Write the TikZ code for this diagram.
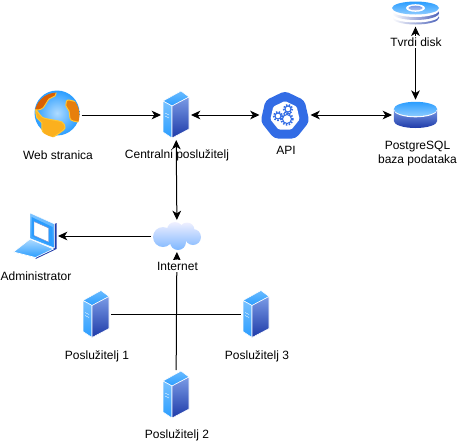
\documentclass[tikz,border=0pt]{standalone}
\usepackage{fontspec}
\setmainfont{Liberation Sans}
\usetikzlibrary{arrows.meta}

\definecolor{skyblue}{HTML}{2A9DFF}
\definecolor{paleblue}{HTML}{8CCBFF}
\definecolor{midblue}{HTML}{7A9BE6}
\definecolor{deepblue}{HTML}{1E3AA8}
\definecolor{apiblue}{HTML}{326CE5}
\definecolor{landdark}{HTML}{D95F02}
\definecolor{landlight}{HTML}{FBB01E}
\definecolor{landedge}{HTML}{FFC733}

\tikzset{
	iconbox/.style 2 args={inner sep=0pt, outer sep=1.5pt, minimum width=#1, minimum height=#2},
	textlabel/.style={inner sep=1pt, align=center, font=\fontsize{9}{10.5}\selectfont},
	link/.style={draw=black, line width=0.75pt},
	arrowlink/.style={link, -{Stealth[length=7pt,width=6.5pt,inset=2pt]}},
	botharrow/.style={link, {Stealth[length=7pt,width=6.5pt,inset=2pt]}-{Stealth[length=7pt,width=6.5pt,inset=2pt]}},
	servericon/.pic={
		\path[draw=white, line width=0.4pt, top color=skyblue!70, bottom color=skyblue] (-13,-14) -- (5,-24) -- (13,-18) -- (-4,-9) -- cycle;
		\path[draw=white, line width=0.4pt, top color=paleblue!80!skyblue, bottom color=skyblue] (-13,-14) -- (-4,-9) -- (-4,23) -- (-13,17) -- cycle;
		\path[draw=white, line width=0.4pt, top color=midblue, bottom color=deepblue] (-4,-9) -- (13,-18) -- (13,14) -- (-4,23) -- cycle;
		\draw[white, line width=0.3pt] (-11,-2) -- (-7,0) (-11,1) -- (-7,3);
	},
	globeicon/.pic={
		\shade[inner color=paleblue!70!white, outer color=skyblue] (0,-2) circle (22.5);
		\begin{scope}
			\clip (0,0) circle (22.5);
			\draw[landedge, fill=landdark, line width=0.75pt] plot[smooth cycle] coordinates {(-26,-8) (-20,-24) (-2,-26) (-2,-19) (-8,-16) (-14,-7) (-20,-5)};
			\draw[landedge, fill=landdark!60!landlight, line width=0.75pt] plot[smooth cycle] coordinates {(11,-15) (24,-10) (25,6) (14,5) (12,-4) (9,-9)};
			\draw[landedge, fill=landlight, line width=0.75pt] plot[smooth cycle] coordinates {(-21,-5) (-15,2) (-9,4) (5,7) (8,13) (1,19) (-9,24) (-15,15) (-15,8) (-20,3)};
		\end{scope}
	},
	apiicon/.pic={
		\fill[apiblue, rounded corners=3pt] (270:25) -- (321.4:25) -- (12.9:25) -- (64.3:25) -- (115.7:25) -- (167.1:25) -- (218.6:25) -- cycle;
		\fill[white, rounded corners=1pt] (270:15) -- (321.4:15) -- (12.9:15) -- (64.3:15) -- (115.7:15) -- (167.1:15) -- (218.6:15) -- cycle;
		% gears
		\foreach \gx/\gy/\gr in {-7/0/3, 3/-7/3, 2/3/4.5} {
			\draw[apiblue, line width=0.8pt] (\gx,\gy) circle (\gr);
			\draw[apiblue, line width=1.3pt, dash pattern=on 1.1pt off 1.1pt] (\gx,\gy) circle (\gr+1.3);
		}
	},
	diskicon/.pic={
		\shade[left color=white, right color=deepblue!80] (-23.5,4) arc[start angle=180, end angle=0, x radius=23.5, y radius=-7] -- (23.5,5) arc[start angle=0, end angle=180, x radius=23.5, y radius=6.5] -- cycle;
		\fill[white] (0,3) ellipse (23.5 and 6.5);
		\shade[left color=white, right color=deepblue!80] (0,0) ellipse (23.5 and 7);
		\fill[white] (0,-2.5) ellipse (23.5 and 6.5);
		\shade[top color=skyblue, bottom color=paleblue] (0,-5) ellipse (23.5 and 6.5);
		\fill[white] (0,-5) ellipse (9.5 and 3.8);
		\shade[top color=midblue, bottom color=midblue!60] (0,-5) ellipse (7 and 2.3);
	},
	dbicon/.pic={
		\shade[top color=midblue, bottom color=deepblue] (-21.7,-6) -- (21.7,-6) -- (21.7,6) arc[start angle=0, end angle=180, x radius=21.7, y radius=7] -- cycle;
		\fill[white] (0,-5) ellipse (21.7 and 7.3);
		\shade[top color=skyblue, bottom color=paleblue] (0,-6) ellipse (21.7 and 7.2);
	},
	laptopicon/.pic={
		\fill[deepblue] (20,-12) -- (22,-13) -- (22,13) -- (1,23) -- (1,21) -- (20,12) -- cycle;
		\path[draw=white, line width=0.3pt, top color=skyblue!60, bottom color=skyblue] (-4.5,-23) -- (20,-12) -- (20,12) -- (-4.5,2.5) -- cycle;
		\fill[skyblue] (-3,-19) -- (18,-9) -- (18,10) -- (-3,0) -- cycle;
		\path[draw=deepblue!60, line width=0.3pt, fill=white] (-0.5,-14.5) -- (14,-8) -- (14,6) -- (-0.5,-0.5) -- cycle;
		\path[draw=white, line width=0.5pt, top color=paleblue!70!white, bottom color=skyblue] (-21,16) -- (-4.5,3) -- (19,13) -- (1,21.5) -- cycle;
	},
	cloudicon/.pic={
		\shade[top color=blue!6!white, bottom color=paleblue!90!blue]
			(-14,1) circle (10) (-2,-6) circle (8) (10,-6) circle (7.5) (16,1) circle (8) (1,6) circle (8) (0,0) circle (9);
	},
}

\begin{document}
\begin{tikzpicture}[x=0.75pt, y=-0.75pt]
	\useasboundingbox (0,0) rectangle (457,444);

	\node (web) [iconbox={33.75pt}{33.75pt}] at (57,115) {};
	\node (central) [iconbox={19.5pt}{34.5pt}] at (176,115) {};
	\node (api) [iconbox={35.25pt}{34.5pt}] at (285,115) {};
	\node (postgres) [iconbox={32.25pt}{20pt}] at (415.5,115) {};
	\node (disk) [iconbox={35.25pt}{17.5pt}] at (415.5,13) {};
	\node (cloud) [iconbox={36pt}{21pt}] at (177,236) {};
	\node (admin) [iconbox={32.25pt}{34.5pt}] at (34.5,236) {};
	\node (server1) [iconbox={19.5pt}{34.5pt}] at (96,314.5) {};
	\node (server3) [iconbox={19.5pt}{34.5pt}] at (256,314.5) {};
	\node (server2) [iconbox={19.5pt}{34.5pt}] at (176,395) {};
	\coordinate (junction) at (176.5,314.5);

	% connectors go under the labels with a white background
	\draw[arrowlink] (web) -- (central);
	\draw[botharrow] (central) -- (api);
	\draw[botharrow] (api) -- (postgres);
	\draw[botharrow] (disk) -- (postgres);
	\draw[botharrow] (central) -- (cloud);
	\draw[arrowlink] (cloud) -- (admin);
	\draw[link] (server1) -- (server3);
	\draw[link] (server2) -- (junction);
	\draw[arrowlink] (junction) -- (cloud);

	\pic at (web) {globeicon};
	\pic at (central) {servericon};
	\pic at ([yshift=-0.75pt]api) {apiicon};
	\pic at (postgres) {dbicon};
	\pic at (disk) {diskicon};
	\pic at (cloud) {cloudicon};
	\pic at (admin) {laptopicon};
	\pic at (server1) {servericon};
	\pic at (server2) {servericon};
	\pic at (server3) {servericon};

	\node (weblabel) [textlabel] at (58,155) {Web stranica};
	\node (centrallabel) [textlabel] at (177,155) {Centralni poslužitelj};
	\node (apilabel) [textlabel] at (286,150) {API};
	\node (postgreslabel) [textlabel] at (417.5,154) {PostgreSQL\\baza podataka};
	\node (disklabel) [textlabel, fill=white] at (416,42) {Tvrdi disk};
	\node (cloudlabel) [textlabel, fill=white] at (177.5,266) {Internet};
	\node (adminlabel) [textlabel] at (36,276) {Administrator};
	\node (server1label) [textlabel] at (97,356) {Poslužitelj 1};
	\node (server2label) [textlabel] at (177,435.5) {Poslužitelj 2};
	\node (server3label) [textlabel] at (257,356) {Poslužitelj 3};
\end{tikzpicture}
\end{document}
